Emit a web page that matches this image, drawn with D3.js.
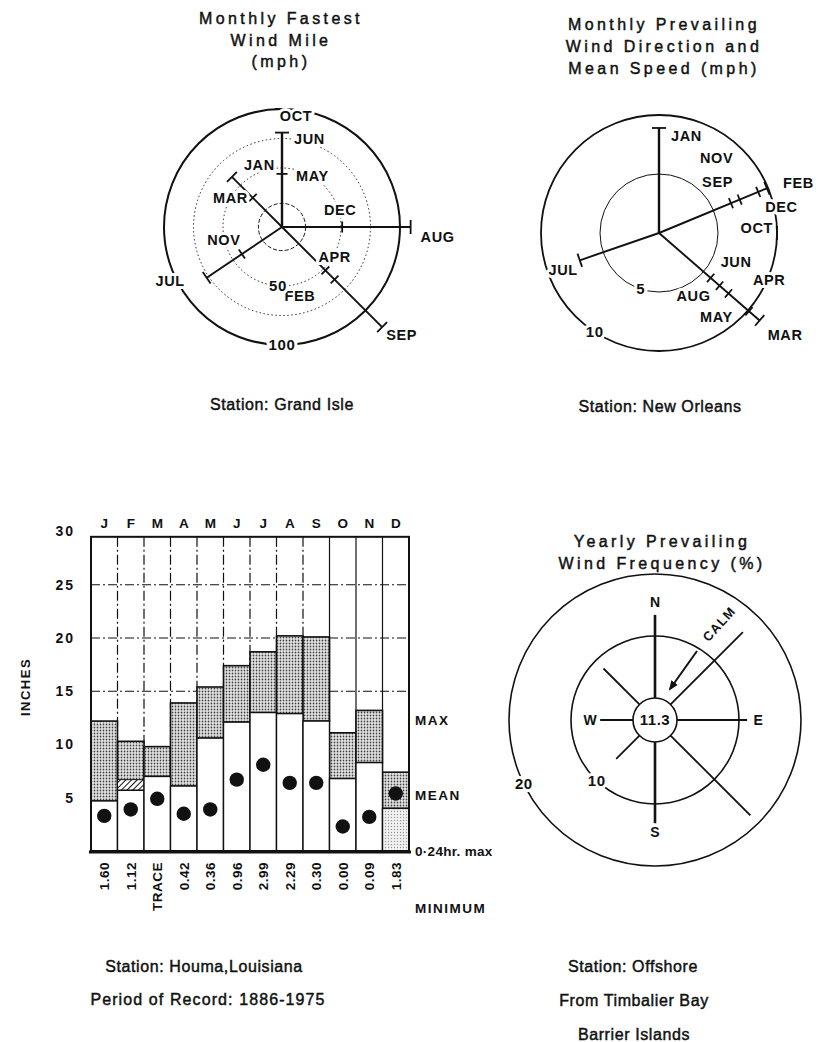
<!DOCTYPE html>
<html>
<head>
<meta charset="utf-8">
<script src="https://cdn.jsdelivr.net/npm/d3@7"></script>
<style>
  body { margin: 0; background: #fff; }
  text { font-family: "Liberation Sans", Arial, sans-serif; fill: #111; }
  .halo { stroke: #fff; stroke-width: 6px; paint-order: stroke; stroke-linejoin: round; }
  .heavy { stroke: #111; stroke-width: 0.45px; }
</style>
</head>
<body>
<script>
// ---- Grand Isle: monthly fastest wind mile (direction in degrees, speed mph)
var glMonths = ["JAN", "FEB", "MAR", "APR", "MAY", "JUN", "JUL", "AUG", "SEP", "OCT", "NOV", "DEC"];
var glDir = [315, 135, 315, 135, 0, 0, 236, 90, 135, 0, 236, 90];
var glSpeed = [60, 63, 35, 52, 45, 80, 77, 109, 120, 100, 41, 51];
var glRings = [20, 50, 75, 100];
var glRingLabels = ["50", "100"];

// ---- New Orleans: monthly prevailing direction and mean speed (mph)
var noMonths = ["JAN", "FEB", "MAR", "APR", "MAY", "JUN", "JUL", "AUG", "SEP", "OCT", "NOV", "DEC"];
var noDir = [0, 67.5, 131, 131, 131, 131, 251, 131, 67.5, 90, 67.5, 67.5];
var noSpeed = [8.9, 9.9, 11.3, 10.1, 7.8, 5.8, 7.1, 6.8, 6.6, 10.0, 7.4, 9.1];
var noRings = [5, 10];

// ---- Houma: monthly rainfall (inches)
var rainMonths = ["J", "F", "M", "A", "M", "J", "J", "A", "S", "O", "N", "D"];
var rain24Max = [4.7, 5.7, 7.0, 6.1, 10.6, 12.1, 13.0, 12.9, 12.2, 6.8, 8.3, 4.0];
var rainMax = [12.2, 10.3, 9.8, 13.9, 15.4, 17.4, 18.7, 20.2, 20.1, 11.1, 13.2, 7.4];
var rainMean = [3.3, 3.9, 4.9, 3.5, 3.9, 6.7, 8.1, 6.4, 6.4, 2.3, 3.2, 5.4];
var rainMin = ["1.60", "1.12", "TRACE", "0.42", "0.36", "0.96", "2.99", "2.29", "0.30", "0.00", "0.09", "1.83"];
var febHatch = [5.7, 6.7];
var rainTicks = [5, 10, 15, 20, 25, 30];

// ---- Offshore: yearly prevailing wind frequency (%)
var freqDirs = ["N", "NE", "E", "SE", "S", "SW", "W", "NW"];
var freqAngle = [0, 45, 90, 135, 180, 225, 270, 315];
var freqPct = [13.4, 16.5, 11.3, 18.2, 13.1, 5.3, 5.3, 8.2];
var calmPct = 11.3;
var freqRings = [10, 20];

// label placement (offsets from the tick point, in px)
var glLabelPos = {
  JAN: [12, -7, "start"], FEB: [-50, 21, "start"], MAR: [-5, 5, "end"], APR: [-7, -8, "start"],
  MAY: [14, 7, "start"], JUN: [12, 11, "start"], JUL: [-22, 8, "end"], AUG: [10, 15, "start"],
  SEP: [4, 13, "start"], OCT: [14, 12, "middle"], NOV: [-18, -9, "middle"], DEC: [-2, -12, "middle"]
};
var noLabelPos = {
  JAN: [12, 13, "start"], FEB: [16, 0, "start"], MAR: [8, 20, "start"], APR: [4, -26, "start"],
  MAY: [-12, 29, "middle"], JUN: [10, -11, "start"], JUL: [-2, 15, "end"], AUG: [-43, 15, "start"],
  SEP: [2, -16, "end"], OCT: [-4, 0, "end"], NOV: [-23, -37, "middle"], DEC: [7, 20, "start"]
};

var svg = d3.select("body").append("svg")
  .attr("width", 820)
  .attr("height", 1042);

var defs = svg.append("defs");
var stip = defs.append("pattern").attr("id", "stip")
  .attr("width", 3).attr("height", 3).attr("patternUnits", "userSpaceOnUse");
stip.append("rect").attr("width", 3).attr("height", 3).attr("fill", "#e6e6e6");
stip.append("circle").attr("cx", 1.5).attr("cy", 1.5).attr("r", 0.9).attr("fill", "#474747");

var lightStip = defs.append("pattern").attr("id", "lightStip")
  .attr("width", 3).attr("height", 3).attr("patternUnits", "userSpaceOnUse");
lightStip.append("rect").attr("width", 3).attr("height", 3).attr("fill", "#f2f2f2");
lightStip.append("circle").attr("cx", 1.5).attr("cy", 1.5).attr("r", 0.7).attr("fill", "#999");

var hatch = defs.append("pattern").attr("id", "hatch")
  .attr("width", 4).attr("height", 4).attr("patternUnits", "userSpaceOnUse")
  .attr("patternTransform", "rotate(45)");
hatch.append("rect").attr("width", 4).attr("height", 4).attr("fill", "#fff");
hatch.append("line").attr("x1", 0).attr("y1", 0).attr("x2", 0).attr("y2", 4)
  .attr("stroke", "#111").attr("stroke-width", 2);

function title(lines, x, y0, dy) {
  var t = svg.append("text")
    .attr("class", "heavy")
    .attr("text-anchor", "middle")
    .attr("font-size", 16)
    .attr("letter-spacing", "3.4px");
  lines.forEach(function(s, i) {
    t.append("tspan").attr("x", x).attr("y", y0 + i * dy).text(s);
  });
}

function caption(s, x, y, ls) {
  svg.append("text")
    .attr("class", "heavy")
    .attr("x", x).attr("y", y)
    .attr("text-anchor", "middle")
    .attr("font-size", 16)
    .attr("letter-spacing", (ls || 0.6) + "px")
    .text(s);
}

// draws a monthly rose: spokes by direction, ticks at each month's speed
function monthRose(cfg) {
  var g = svg.append("g");
  var r = d3.scaleLinear().domain([0, cfg.ringMax]).range([0, cfg.outerR]);
  var pt = function(dir, v) {
    var a = dir * Math.PI / 180;
    return [cfg.cx + r(v) * Math.sin(a), cfg.cy - r(v) * Math.cos(a)];
  };

  cfg.rings.forEach(function(v) {
    var c = g.append("circle")
      .attr("cx", cfg.cx).attr("cy", cfg.cy).attr("r", r(v))
      .attr("fill", "none").attr("stroke", "#111");
    var st = cfg.ringStyle(v);
    c.attr("stroke-width", st[0]).attr("stroke-dasharray", st[1]);
  });

  // spokes: longest month per direction (a value lying exactly on the outer ring is marked there only)
  var byDir = d3.rollup(
    d3.range(cfg.months.length).filter(function(i) { return cfg.speed[i] !== cfg.ringMax; }),
    function(ix) { return d3.max(ix, function(i) { return cfg.speed[i]; }); },
    function(i) { return cfg.dir[i]; }
  );
  byDir.forEach(function(v, dir) {
    var p = pt(dir, v);
    g.append("line")
      .attr("x1", cfg.cx).attr("y1", cfg.cy).attr("x2", p[0]).attr("y2", p[1])
      .attr("stroke", "#111").attr("stroke-width", dir === 0 ? 2.4 : 1.9);
  });

  cfg.months.forEach(function(m, i) {
    var dir = cfg.dir[i], v = cfg.speed[i];
    var a = dir * Math.PI / 180;
    var p = pt(dir, v);
    var isEnd = byDir.get(dir) === v || v === cfg.ringMax;
    var h = isEnd ? 7 : 5.5;
    var px = Math.cos(a) * h, py = Math.sin(a) * h;
    g.append("line")
      .attr("x1", p[0] - px).attr("y1", p[1] - py)
      .attr("x2", p[0] + px).attr("y2", p[1] + py)
      .attr("stroke", "#111").attr("stroke-width", 1.8);
  });

  cfg.months.forEach(function(m, i) {
    var p = pt(cfg.dir[i], cfg.speed[i]);
    var o = cfg.labelPos[m];
    g.append("text")
      .attr("class", "halo")
      .attr("x", p[0] + o[0]).attr("y", p[1] + o[1])
      .attr("text-anchor", o[2])
      .attr("font-size", 14.5)
      .attr("font-weight", "bold")
      .attr("letter-spacing", "0.6px")
      .text(m);
  });

  cfg.ringLabels.forEach(function(l) {
    var p = pt(l.angle, l.value);
    g.append("text")
      .attr("class", "halo")
      .attr("x", p[0]).attr("y", p[1])
      .attr("dy", "0.35em")
      .attr("text-anchor", "middle")
      .attr("font-size", 15)
      .attr("font-weight", "bold")
      .attr("letter-spacing", "0.6px")
      .text(l.text);
  });
}

// ---------------- top left ----------------
title(["Monthly Fastest", "Wind Mile", "(mph)"], 281, 24, 21.5);
monthRose({
  cx: 282, cy: 227, ringMax: 100, outerR: 118,
  rings: glRings,
  ringStyle: function(v) {
    if (v === 100) return [2, null];
    if (v === 20) return [1, "4,2"];
    return [0.9, "1.5,2.5"];
  },
  months: glMonths, dir: glDir, speed: glSpeed, labelPos: glLabelPos,
  ringLabels: [{ text: glRingLabels[0], value: 50, angle: 184 }, { text: glRingLabels[1], value: 100, angle: 180 }]
});
caption("Station:  Grand Isle", 282, 410);

// ---------------- top right ----------------
title(["Monthly Prevailing", "Wind Direction and", "Mean Speed (mph)"], 664, 30, 22);
monthRose({
  cx: 659, cy: 233, ringMax: 10, outerR: 118,
  rings: noRings,
  ringStyle: function(v) { return v === 10 ? [1.8, null] : [1, null]; },
  months: noMonths, dir: noDir, speed: noSpeed, labelPos: noLabelPos,
  ringLabels: [{ text: "5", value: 5, angle: 198 }, { text: "10", value: 10, angle: 213 }]
});
caption("Station: New Orleans", 660, 412);

// ---------------- rainfall chart ----------------
var x = d3.scaleBand().domain(d3.range(12)).range([91, 409]).paddingInner(0).paddingOuter(0);
var y = d3.scaleLinear().domain([0, 30]).range([851, 531.5]);
var chart = svg.append("g");
var topY = y(29.5);

// dash-dot grid
chart.selectAll(".hgrid").data([15, 20, 25]).enter().append("line")
  .attr("x1", 91).attr("x2", 409)
  .attr("y1", function(d) { return y(d); }).attr("y2", function(d) { return y(d); })
  .attr("stroke", "#111").attr("stroke-width", 1.2)
  .attr("stroke-dasharray", "9,3,2,3");
chart.selectAll(".vgrid").data(d3.range(1, 12)).enter().append("line")
  .attr("x1", function(d) { return x(d); }).attr("x2", function(d) { return x(d); })
  .attr("y1", topY).attr("y2", y(0))
  .attr("stroke", "#111").attr("stroke-width", 1.2)
  .attr("stroke-dasharray", function(d) { return d >= 9 ? null : "10,3,2,3"; });

// stippled band between 24-hr max and monthly max
chart.selectAll(".maxbar").data(d3.range(12)).enter().append("rect")
  .attr("x", function(i) { return x(i); })
  .attr("width", x.bandwidth())
  .attr("y", function(i) { return y(rainMax[i]); })
  .attr("height", function(i) { return y(rain24Max[i]) - y(rainMax[i]); })
  .attr("fill", "url(#stip)")
  .attr("stroke", "#111").attr("stroke-width", 1.6);

chart.append("rect")
  .attr("x", x(1)).attr("width", x.bandwidth())
  .attr("y", y(febHatch[1])).attr("height", y(febHatch[0]) - y(febHatch[1]))
  .attr("fill", "url(#hatch)").attr("stroke", "#111").attr("stroke-width", 1);

// 24-hr max bar
chart.selectAll(".daybar").data(d3.range(12)).enter().append("rect")
  .attr("x", function(i) { return x(i); })
  .attr("width", x.bandwidth())
  .attr("y", function(i) { return y(rain24Max[i]); })
  .attr("height", function(i) { return y(0) - y(rain24Max[i]); })
  .attr("fill", function(i) { return i === 11 ? "url(#lightStip)" : "#fff"; })
  .attr("stroke", "#111").attr("stroke-width", 1.4);

// frame
chart.append("rect")
  .attr("x", 91).attr("y", topY)
  .attr("width", 318).attr("height", y(0) - topY)
  .attr("fill", "none").attr("stroke", "#111").attr("stroke-width", 2);
chart.append("line")
  .attr("x1", 89).attr("x2", 411).attr("y1", y(0) + 1).attr("y2", y(0) + 1)
  .attr("stroke", "#111").attr("stroke-width", 3);

// mean dots
chart.selectAll(".mean").data(d3.range(12)).enter().append("circle")
  .attr("cx", function(i) { return x(i) + x.bandwidth() / 2; })
  .attr("cy", function(i) { return y(rainMean[i]); })
  .attr("r", 7.2)
  .attr("fill", "#111");

// axis labels
var yAxis = d3.axisLeft(y).tickValues(rainTicks).tickSize(0).tickPadding(0);
var yg = chart.append("g").attr("transform", "translate(75,0)").call(yAxis);
yg.select(".domain").remove();
yg.selectAll("text")
  .attr("font-size", 14).attr("font-weight", "bold")
  .attr("letter-spacing", "2px")
  .attr("font-family", "Liberation Sans, Arial, sans-serif")
  .attr("fill", "#111");

chart.selectAll(".mlab").data(rainMonths).enter().append("text")
  .attr("x", function(d, i) { return x(i) + x.bandwidth() / 2; })
  .attr("y", 528)
  .attr("text-anchor", "middle")
  .attr("font-size", 13.5).attr("font-weight", "bold")
  .text(function(d) { return d; });

chart.selectAll(".minlab").data(rainMin).enter().append("text")
  .attr("transform", function(d, i) {
    return "translate(" + (x(i) + x.bandwidth() / 2 + 5) + ",862) rotate(-90)";
  })
  .attr("text-anchor", "end")
  .attr("font-size", 13.5).attr("font-weight", "bold")
  .attr("letter-spacing", "0.5px")
  .text(function(d) { return d; });

chart.append("text")
  .attr("transform", "translate(30,687) rotate(-90)")
  .attr("text-anchor", "middle")
  .attr("font-size", 13).attr("font-weight", "bold")
  .attr("letter-spacing", "1.5px")
  .text("INCHES");

var legend = [["MAX", 725], ["MEAN", 800], ["0·24hr. max", 856], ["MINIMUM", 913]];
legend.forEach(function(l) {
  chart.append("text")
    .attr("x", 415).attr("y", l[1])
    .attr("font-size", 13.5).attr("font-weight", "bold")
    .attr("letter-spacing", l[0] === "0·24hr. max" ? "0.3px" : "1.5px")
    .text(l[0]);
});

caption("Station: Houma,Louisiana", 204, 972);
caption("Period of Record: 1886-1975", 208, 1005, 1.1);

// ---------------- frequency rose ----------------
title(["Yearly Prevailing", "Wind Frequency (%)"], 662, 547, 22);
var fcx = 655, fcy = 720;
var fr = d3.scaleLinear().domain([0, 10]).range([22, 84]);
var rose = svg.append("g");
freqRings.forEach(function(v) {
  rose.append("circle").attr("cx", fcx).attr("cy", fcy).attr("r", fr(v))
    .attr("fill", "none").attr("stroke", "#111").attr("stroke-width", 1.6);
});
freqDirs.forEach(function(d, i) {
  var a = freqAngle[i] * Math.PI / 180;
  rose.append("line")
    .attr("x1", fcx + fr(0) * Math.sin(a)).attr("y1", fcy - fr(0) * Math.cos(a))
    .attr("x2", fcx + fr(freqPct[i]) * Math.sin(a)).attr("y2", fcy - fr(freqPct[i]) * Math.cos(a))
    .attr("stroke", "#111").attr("stroke-width", (d === "N" || d === "S") ? 2.6 : 1.8);
});
rose.append("circle").attr("cx", fcx).attr("cy", fcy).attr("r", fr(0))
  .attr("fill", "#fff").attr("stroke", "#111").attr("stroke-width", 1.6);
rose.append("text")
  .attr("x", fcx).attr("y", fcy).attr("dy", "0.35em")
  .attr("text-anchor", "middle")
  .attr("font-size", 15).attr("font-weight", "bold")
  .attr("letter-spacing", "0.5px")
  .text(calmPct.toFixed(1));

// compass letters just past the spoke ends
var compassPos = { N: [0, -13], S: [0, 9], E: [11, 0], W: [-10, 0] };
freqDirs.forEach(function(d, i) {
  if (!compassPos[d]) return;
  var a = freqAngle[i] * Math.PI / 180;
  var o = compassPos[d];
  rose.append("text")
    .attr("x", fcx + fr(freqPct[i]) * Math.sin(a) + o[0])
    .attr("y", fcy - fr(freqPct[i]) * Math.cos(a) + o[1])
    .attr("dy", "0.35em")
    .attr("text-anchor", "middle")
    .attr("font-size", 14).attr("font-weight", "bold")
    .text(d);
});

// ring labels
[[10, 224], [20, 244]].forEach(function(l) {
  var a = l[1] * Math.PI / 180;
  rose.append("text")
    .attr("class", "halo")
    .attr("x", fcx + fr(l[0]) * Math.sin(a)).attr("y", fcy - fr(l[0]) * Math.cos(a))
    .attr("dy", "0.35em")
    .attr("text-anchor", "middle")
    .attr("font-size", 15).attr("font-weight", "bold")
    .attr("letter-spacing", "0.5px")
    .text(l[0]);
});

// calm arrow
defs.append("marker").attr("id", "arrow")
  .attr("viewBox", "0 0 10 10").attr("refX", 8).attr("refY", 5)
  .attr("markerWidth", 5).attr("markerHeight", 5).attr("orient", "auto")
  .append("path").attr("d", "M0,1 L10,5 L0,9 Z").attr("fill", "#111");
rose.append("line")
  .attr("x1", 697).attr("y1", 651).attr("x2", 670).attr("y2", 689)
  .attr("stroke", "#111").attr("stroke-width", 2)
  .attr("marker-end", "url(#arrow)");
rose.append("text")
  .attr("transform", "translate(719,624) rotate(-48)")
  .attr("text-anchor", "middle")
  .attr("dy", "0.35em")
  .attr("font-size", 13).attr("font-weight", "bold")
  .attr("letter-spacing", "1px")
  .text("CALM");

caption("Station: Offshore", 633, 972);
caption("From Timbalier Bay", 634, 1006);
caption("Barrier Islands", 634, 1040);
</script>
</body>
</html>
